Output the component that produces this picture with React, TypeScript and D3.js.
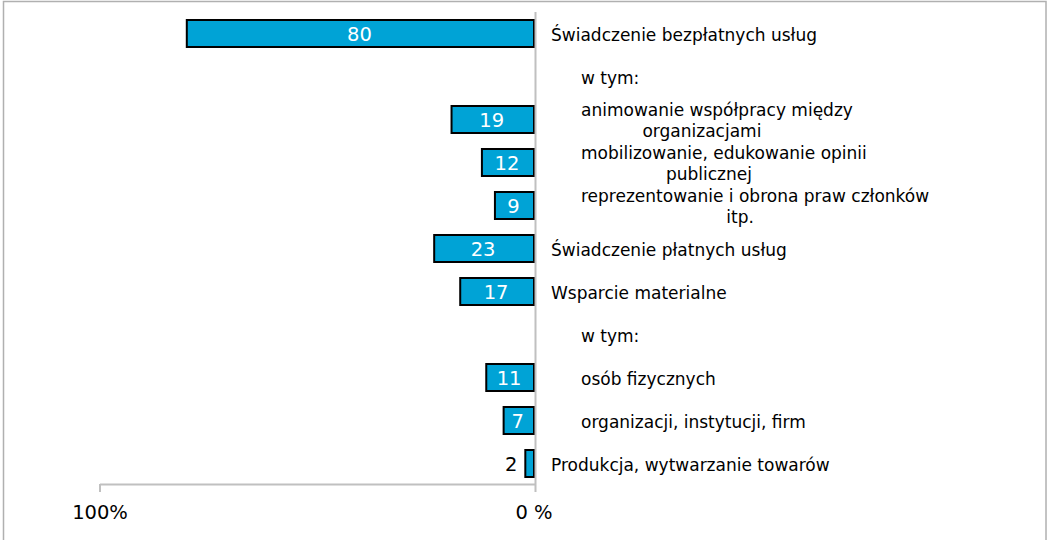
import React, { useEffect, useRef } from 'react';
import * as d3 from 'd3';

const categories: string[][] = [
  ['Świadczenie bezpłatnych usług'],
  ['w tym:'],
  ['animowanie współpracy między', 'organizacjami'],
  ['mobilizowanie, edukowanie opinii', 'publicznej'],
  ['reprezentowanie i obrona praw członków', 'itp.'],
  ['Świadczenie płatnych usług'],
  ['Wsparcie materialne'],
  ['w tym:'],
  ['osób fizycznych'],
  ['organizacji, instytucji, firm'],
  ['Produkcja, wytwarzanie towarów'],
];
const subItem: boolean[] = [false, true, true, true, true, false, false, true, true, true, false];
const values: (number | null)[] = [80, null, 19, 12, 9, 23, 17, null, 11, 7, 2];
const axisTicks: number[] = [100, 0];
const axisTickLabels: string[] = ['100%', '0 %'];

const W = 1048;
const H = 540;
const FONT = "'DejaVu Sans', Verdana, sans-serif";

export default function App() {
  const ref = useRef<SVGSVGElement>(null);

  useEffect(() => {
    const svg = d3.select(ref.current);
    svg.selectAll('*').remove();

    const x = d3.scaleLinear().domain([0, 100]).range([534, 100]);
    const y = d3
      .scaleBand<number>()
      .domain(d3.range(categories.length))
      .range([12, 485])
      .paddingInner(0.372)
      .paddingOuter(0.186);

    svg.append('rect').attr('x', 0).attr('y', 0).attr('width', W).attr('height', H).attr('fill', '#ffffff');
    svg
      .append('rect')
      .attr('x', 3.5)
      .attr('y', 1.5)
      .attr('width', 1042.5)
      .attr('height', 600)
      .attr('fill', 'none')
      .attr('stroke', '#b0b0b0')
      .attr('stroke-width', 1.5);

    const idx = d3.range(categories.length);
    const withVal = idx.filter((i) => values[i] !== null);

    // bars
    svg
      .append('g')
      .selectAll('rect')
      .data(withVal)
      .join('rect')
      .attr('x', (i) => x(values[i] as number))
      .attr('y', (i) => y(i) as number)
      .attr('width', (i) => x(0) - x(values[i] as number))
      .attr('height', y.bandwidth())
      .attr('fill', '#00A3D6')
      .attr('stroke', '#000000')
      .attr('stroke-width', 2);

    // value labels
    const inside = (i: number) => x(0) - x(values[i] as number) > 22;
    svg
      .append('g')
      .selectAll('text')
      .data(withVal)
      .join('text')
      .attr('x', (i) => {
        const v = values[i] as number;
        return inside(i) ? (x(0) + x(v)) / 2 - 1 : x(v) - 8;
      })
      .attr('y', (i) => (y(i) as number) + y.bandwidth() / 2)
      .attr('dy', '0.4em')
      .attr('text-anchor', (i) => (inside(i) ? 'middle' : 'end'))
      .attr('fill', (i) => (inside(i) ? '#ffffff' : '#000000'))
      .attr('font-family', FONT)
      .attr('font-size', 19.5)
      .text((i) => String(values[i]));

    // axes
    const axisColor = '#c0c0c0';
    svg
      .append('line')
      .attr('x1', x(100))
      .attr('x2', x(0) + 1.5)
      .attr('y1', 484.5)
      .attr('y2', 484.5)
      .attr('stroke', axisColor)
      .attr('stroke-width', 2);
    svg
      .append('g')
      .selectAll('line')
      .data(axisTicks)
      .join('line')
      .attr('x1', (d) => x(d) + (d === 0 ? 1.5 : 0))
      .attr('x2', (d) => x(d) + (d === 0 ? 1.5 : 0))
      .attr('y1', (d) => (d === 0 ? 12 : 484))
      .attr('y2', 492)
      .attr('stroke', axisColor)
      .attr('stroke-width', 2);
    svg
      .append('g')
      .selectAll('text')
      .data(axisTicks)
      .join('text')
      .attr('x', (d) => x(d))
      .attr('y', 519)
      .attr('text-anchor', 'middle')
      .attr('font-family', FONT)
      .attr('font-size', 19.5)
      .attr('fill', '#000000')
      .text((d, k) => axisTickLabels[k]);

    // category labels
    const labelX = 551;
    const indent = 30;
    const lineGap = 21.5;
    const gLab = svg.append('g').attr('font-family', FONT).attr('font-size', 17).attr('fill', '#000');
    idx.forEach((i) => {
      const lines = categories[i];
      const cy = (y(i) as number) + y.bandwidth() / 2 + 7;
      const x0 = labelX + (subItem[i] ? indent : 0);
      if (lines.length === 1) {
        gLab.append('text').attr('x', x0).attr('y', cy).text(lines[0]);
      } else {
        const t1 = gLab
          .append('text')
          .attr('x', x0)
          .attr('y', cy - lineGap / 2)
          .text(lines[0]);
        const len = (t1.node() as SVGTextElement).getComputedTextLength();
        const boxW = x0 - labelX + len;
        gLab
          .append('text')
          .attr('x', labelX + boxW / 2)
          .attr('y', cy + lineGap / 2)
          .attr('text-anchor', 'middle')
          .text(lines[1]);
      }
    });
  }, []);

  return <svg ref={ref} width={W} height={H} style={{ position: 'absolute', left: 0, top: 0 }} />;
}
